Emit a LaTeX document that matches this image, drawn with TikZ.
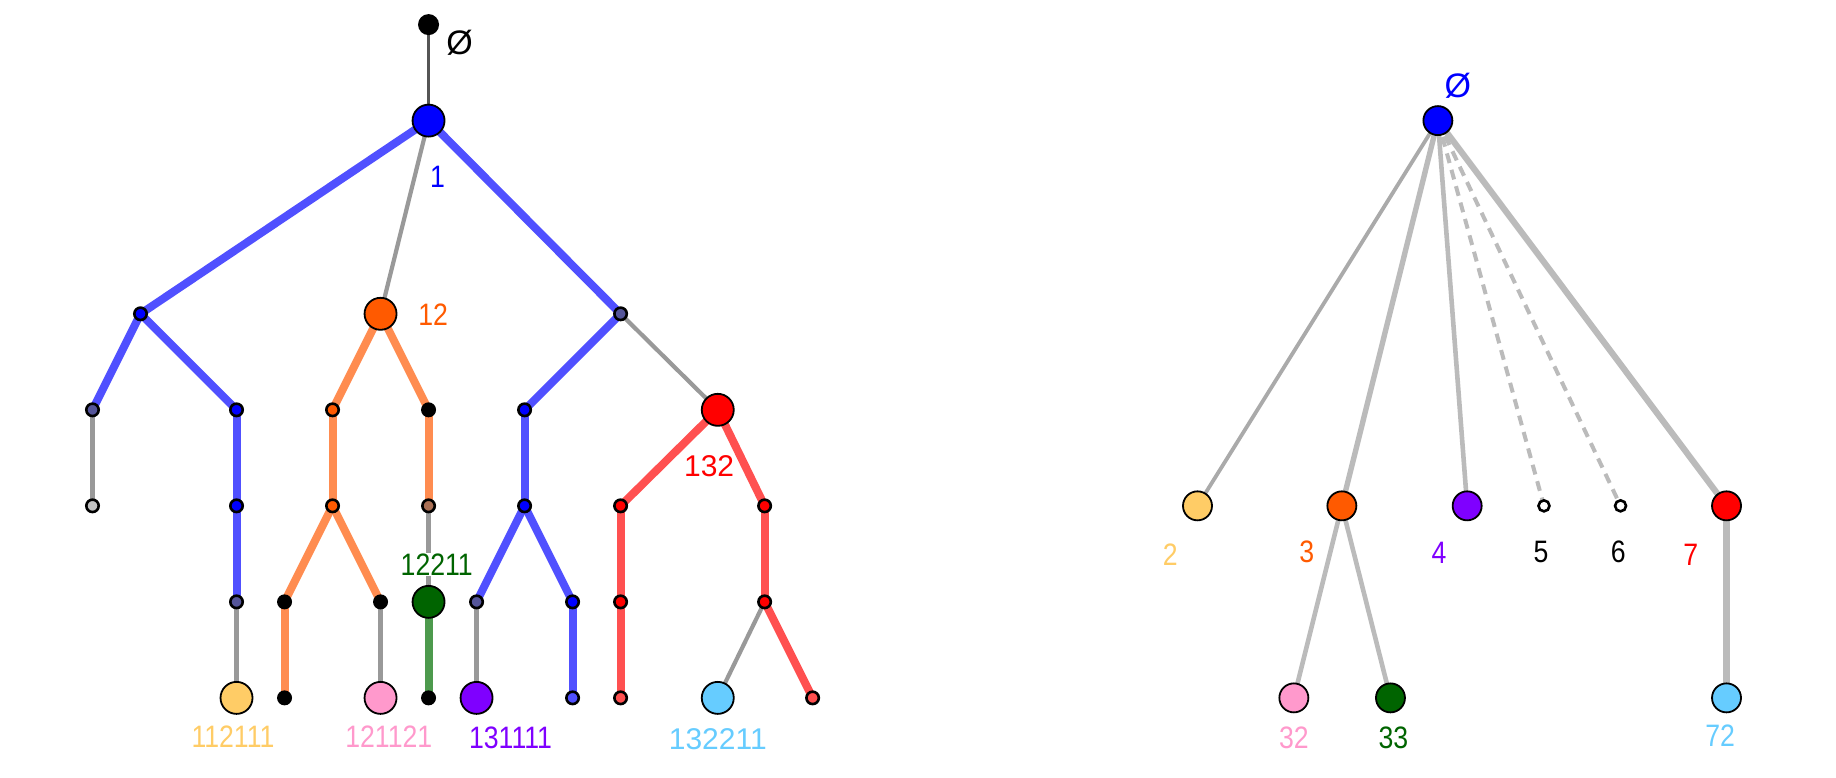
\documentclass[tikz,border=0pt]{standalone}
\usepackage{fontspec}
\setmainfont{Liberation Sans}
\newfontfamily\condf[FakeStretch=0.86]{Liberation Sans}
\usetikzlibrary{backgrounds}
\definecolor{lblue}{HTML}{5050FF}
\definecolor{lgray}{HTML}{999999}
\definecolor{dgray}{HTML}{555555}
\definecolor{lorange}{HTML}{FF8C50}
\definecolor{lred}{HTML}{FF5050}
\definecolor{lgreen}{HTML}{4D9A4D}
\definecolor{cblue}{HTML}{0000FF}
\definecolor{corange}{HTML}{FF5A00}
\definecolor{cred}{HTML}{FF0000}
\definecolor{cgreen}{HTML}{006400}
\definecolor{cyellow}{HTML}{FFCC66}
\definecolor{cpink}{HTML}{FF99CC}
\definecolor{cpurple}{HTML}{7F00FF}
\definecolor{clblue}{HTML}{66CCFF}
\definecolor{cgb}{HTML}{555599}
\definecolor{cbrown}{HTML}{AA7055}
\definecolor{rgA}{HTML}{AAAAAA}
\definecolor{rgB}{HTML}{BBBBBB}
\tikzset{
  big/.style={circle,draw=black,line width=0.9pt,minimum size=16pt,inner sep=0pt},
  rbig/.style={circle,draw=black,line width=0.9pt,minimum size=14.5pt,inner sep=0pt},
  dot/.style={circle,draw=black,line width=1.3pt,minimum size=6.2pt,inner sep=0pt},
  bdot/.style={circle,fill=black,minimum size=7.5pt,inner sep=0pt},
  wdot/.style={circle,draw=black,fill=white,line width=1.3pt,minimum size=5.5pt,inner sep=0pt},
  topdot/.style={circle,fill=black,minimum size=10.5pt,inner sep=0pt},
  thickb/.style={line width=4pt,color=lblue},
  thicko/.style={line width=4pt,color=lorange},
  thickr/.style={line width=4pt,color=lred},
  thickg/.style={line width=4pt,color=lgreen},
  thin/.style={line width=2.1pt,color=lgray},
  topline/.style={line width=1.7pt,color=dgray},
  lab/.style={font=\condf\fontsize{15.5}{17}\selectfont,inner sep=0pt},
  labw/.style={font=\fontsize{15}{17}\selectfont,inner sep=0pt},
  redge/.style={color=rgB,line width=2.4pt},
}
\begin{document}
\begin{tikzpicture}[x=0.5855pt,y=-0.5855pt]
\useasboundingbox (0,0) rectangle (1568,664);
% ---------------- left tree ----------------
\node[topdot] (r0) at (366,21) {};
\node[big,fill=cblue] (n1) at (366,103) {};
\node[dot,fill=cblue] (a) at (120,268) {};
\node[big,fill=corange] (n12) at (325,268) {};
\node[dot,fill=cgb] (b) at (530,268) {};
\node[dot,fill=cgb] (c1) at (79,350) {};
\node[dot,fill=cblue] (c2) at (202,350) {};
\node[dot,fill=corange] (c3) at (284,350) {};
\node[bdot] (c4) at (366,350) {};
\node[dot,fill=cblue] (c5) at (448,350) {};
\node[big,fill=cred] (n132) at (613,350) {};
\node[dot,fill=lgray!60!white] (d1) at (79,432) {};
\node[dot,fill=cblue] (d2) at (202,432) {};
\node[dot,fill=corange] (d3) at (284,432) {};
\node[dot,fill=cbrown] (d4) at (366,432) {};
\node[dot,fill=cblue] (d5) at (448,432) {};
\node[dot,fill=cred] (d6) at (530,432) {};
\node[dot,fill=cred] (d7) at (653,432) {};
\node[dot,fill=cgb] (e1) at (202,514) {};
\node[bdot] (e2) at (243,514) {};
\node[bdot] (e3) at (325,514) {};
\node[big,fill=cgreen] (n12211) at (366,514) {};
\node[dot,fill=cgb] (e4) at (407,514) {};
\node[dot,fill=cblue] (e5) at (489,514) {};
\node[dot,fill=cred] (e6) at (530,514) {};
\node[dot,fill=cred] (e7) at (653,514) {};
\node[big,fill=cyellow] (f1) at (202,596) {};
\node[bdot] (f2) at (243,596) {};
\node[big,fill=cpink] (f3) at (325,596) {};
\node[bdot] (f4) at (366,596) {};
\node[big,fill=cpurple] (f5) at (407,596) {};
\node[dot,fill=lblue] (f6) at (489,596) {};
\node[dot,fill=lred] (f7) at (530,596) {};
\node[big,fill=clblue] (f8) at (613,596) {};
\node[dot,fill=lred] (f9) at (694,596) {};
% labels
\node[labw,font=\fontsize{17}{19}\selectfont] (l0) at (392.6,36.4) {Ø};
\node[lab,text=cblue] (l1) at (373.6,151) {1};
\node[lab,text=corange] (l12) at (370,269) {12};
\node[labw,text=cred] (l132) at (605.6,398) {132};
\node[lab,text=cgreen,fill=white,inner sep=0.3pt] (l12211) at (373,482) {12211};
\node[lab,text=cyellow] (l112111) at (199,629) {112111};
\node[lab,text=cpink] (l121121) at (332,629) {121121};
\node[lab,text=cpurple] (l131111) at (436,630) {131111};
\node[labw,text=clblue] (l132211) at (613,631) {132211};
\begin{scope}[on background layer]
\draw[topline] (r0.center) -- (n1.center);
\draw[thickb] (n1.center) -- (a.center);
\draw[thin] (n1.center) -- (n12.center);
\draw[thickb] (n1.center) -- (b.center);
\draw[thickb] (a.center) -- (c1.center);
\draw[thickb] (a.center) -- (c2.center);
\draw[thin] (c1.center) -- (d1.center);
\draw[thickb] (c2.center) -- (d2.center);
\draw[thickb] (d2.center) -- (e1.center);
\draw[thin] (e1.center) -- (f1.center);
\draw[thicko] (n12.center) -- (c3.center);
\draw[thicko] (n12.center) -- (c4.center);
\draw[thicko] (c3.center) -- (d3.center);
\draw[thicko] (d3.center) -- (e2.center);
\draw[thicko] (d3.center) -- (e3.center);
\draw[thicko] (e2.center) -- (f2.center);
\draw[thin] (e3.center) -- (f3.center);
\draw[thicko] (c4.center) -- (d4.center);
\draw[thin] (d4.center) -- (n12211.center);
\draw[thickg] (n12211.center) -- (f4.center);
\draw[thickb] (b.center) -- (c5.center);
\draw[thin] (b.center) -- (n132.center);
\draw[thickb] (c5.center) -- (d5.center);
\draw[thickb] (d5.center) -- (e4.center);
\draw[thickb] (d5.center) -- (e5.center);
\draw[thin] (e4.center) -- (f5.center);
\draw[thickb] (e5.center) -- (f6.center);
\draw[thickr] (n132.center) -- (d6.center);
\draw[thickr] (n132.center) -- (d7.center);
\draw[thickr] (d6.center) -- (e6.center);
\draw[thickr] (e6.center) -- (f7.center);
\draw[thickr] (d7.center) -- (e7.center);
\draw[thin] (e7.center) -- (f8.center);
\draw[thickr] (e7.center) -- (f9.center);
\end{scope}
% ---------------- right tree ----------------
\node[rbig,fill=cblue] (R) at (1228,103) {};
\node[rbig,fill=cyellow] (R2) at (1022.7,432) {};
\node[rbig,fill=corange] (R3) at (1146,432) {};
\node[rbig,fill=cpurple] (R4) at (1253,432) {};
\node[wdot] (R5) at (1318.6,432) {};
\node[wdot] (R6) at (1384,432) {};
\node[rbig,fill=cred] (R7) at (1474.5,432) {};
\node[rbig,fill=cpink] (R32) at (1105,596) {};
\node[rbig,fill=cgreen] (R33) at (1187.5,596) {};
\node[rbig,fill=clblue] (R72) at (1474.5,596) {};
\node[labw,text=cblue,font=\fontsize{17}{19}\selectfont] (Rl) at (1245,73.5) {Ø};
\node[lab,text=cyellow] (Rl2) at (999.5,474) {2};
\node[lab,text=corange] (Rl3) at (1116,471) {3};
\node[lab,text=cpurple] (Rl4) at (1229,472) {4};
\node[lab] (Rl5) at (1316,471) {5};
\node[lab] (Rl6) at (1382,471) {6};
\node[lab,text=cred] (Rl7) at (1444,474) {7};
\node[lab,text=cpink] (Rl32) at (1105,630) {32};
\node[lab,text=cgreen] (Rl33) at (1190,630) {33};
\node[lab,text=clblue] (Rl72) at (1469,628) {72};
\begin{scope}[on background layer]
\draw[color=rgA,line width=1.9pt] (R.center) -- (R2.center);
\draw[redge,line width=2.7pt] (R.center) -- (R3.center);
\draw[redge,line width=2.3pt] (R.center) -- (R4.center);
\draw[redge,line width=2pt,dash pattern=on 5pt off 3.5pt] (R.center) -- (R5.center);
\draw[redge,line width=2pt,dash pattern=on 5pt off 3.5pt] (R.center) -- (R6.center);
\draw[redge,line width=3.1pt] (R.center) -- (R7.center);
\draw[redge,line width=2.3pt] (R3.center) -- (R32.center);
\draw[redge,line width=2.3pt] (R3.center) -- (R33.center);
\draw[redge,line width=3.1pt] (R7.center) -- (R72.center);
\end{scope}
\end{tikzpicture}
\end{document}
